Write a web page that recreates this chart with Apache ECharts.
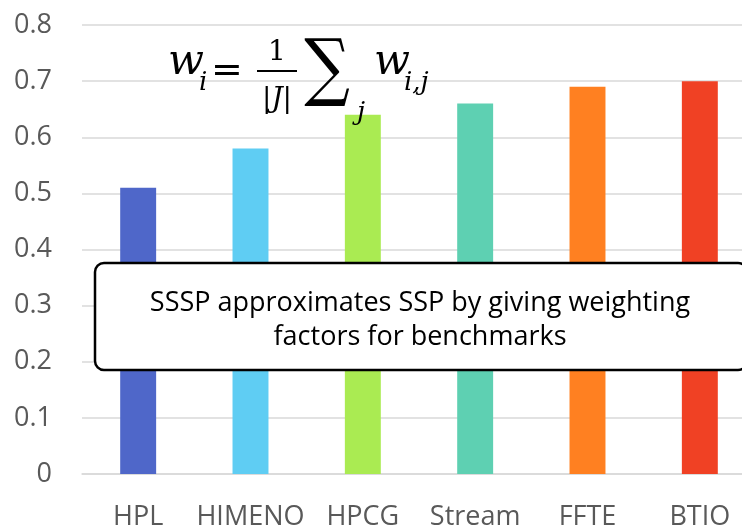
<!DOCTYPE html>
<html>
<head>
<meta charset="utf-8">
<script src="https://cdn.jsdelivr.net/npm/echarts@6/dist/echarts.min.js"></script>
<style>
html,body{margin:0;padding:0;background:#fff;}
#chart{width:742px;height:526px;}
</style>
</head>
<body>
<div id="chart"></div>
<script>
const categories = ['HPL', 'HIMENO', 'HPCG', 'Stream', 'FFTE', 'BTIO'];
const values = [0.51, 0.58, 0.64, 0.66, 0.69, 0.70];
const barColors = ['#4F67C9', '#5FCDF3', '#AAEB52', '#5ED0B2', '#FF8021', '#F04124'];
const noteLines = ['SSSP approximates SSP by giving weighting', 'factors for benchmarks'];

const chart = echarts.init(document.getElementById('chart'), null, {renderer: 'canvas'});
const labelFont = '"Open Sans", "Noto Sans", sans-serif';
const mathFont = '"DejaVu Serif", "Liberation Serif", serif';

// fit the summation glyph to a target vertical extent
const sumFont = '64px ' + mathFont;
const sumTop = 37, sumBottom = 107;
let sumScale = 1.3, sumY = 72;
try {
  const cv = document.createElement('canvas').getContext('2d');
  cv.font = sumFont;
  cv.textBaseline = 'middle';
  const m = cv.measureText('\u2211');
  if (m.actualBoundingBoxAscent !== undefined) {
    const asc = m.actualBoundingBoxAscent, desc = m.actualBoundingBoxDescent;
    sumScale = (sumBottom - sumTop) / (asc + desc);
    sumY = sumTop + asc * sumScale;
  }
} catch (e) {}

chart.setOption({
  animation: false,
  backgroundColor: '#fff',
  grid: {left: 82, right: -14, top: 25, bottom: 52, containLabel: false, outerBoundsMode: 'none'},
  xAxis: {
    type: 'category',
    data: categories,
    axisLine: {show: true, lineStyle: {color: '#d9d9d9', width: 1.5}},
    axisTick: {show: false},
    axisLabel: {color: '#595959', fontSize: 27, fontFamily: labelFont, margin: 30, interval: 0}
  },
  yAxis: {
    type: 'value',
    min: 0, max: 0.8, interval: 0.1,
    axisLine: {show: false},
    axisTick: {show: false},
    splitLine: {lineStyle: {color: '#d9d9d9', width: 1.5}},
    axisLabel: {color: '#595959', fontSize: 27, fontFamily: labelFont, margin: 30}
  },
  series: [{
    type: 'bar',
    data: values.map((v, i) => ({value: v, itemStyle: {color: barColors[i]}})),
    barWidth: '32%'
  }],
  graphic: [
    {type: 'rect', z: 100, shape: {x: 95, y: 263, width: 652, height: 107, r: 9},
     style: {fill: '#fff', stroke: '#000', lineWidth: 2.5}},
    {type: 'text', z: 101, x: 420, y: 303,
     style: {text: noteLines[0], fill: '#000', font: '27px ' + labelFont, textAlign: 'center', textVerticalAlign: 'middle'}},
    {type: 'text', z: 101, x: 420, y: 337,
     style: {text: noteLines[1], fill: '#000', font: '27px ' + labelFont, textAlign: 'center', textVerticalAlign: 'middle'}},
    // formula
    {type: 'text', z: 101, x: 168, y: 84,
     style: {text: 'w', fill: '#000', font: 'italic 42px ' + mathFont, textAlign: 'left', textVerticalAlign: 'bottom'}},
    {type: 'text', z: 101, x: 199, y: 96,
     style: {text: 'i', fill: '#000', font: 'italic 26px ' + mathFont, textAlign: 'left', textVerticalAlign: 'bottom'}},
    {type: 'text', z: 101, x: 227, y: 72,
     style: {text: '=', fill: '#000', font: '38px ' + mathFont, textAlign: 'center', textVerticalAlign: 'middle'}},
    {type: 'text', z: 101, x: 277, y: 67,
     style: {text: '1', fill: '#000', font: '28px ' + mathFont, textAlign: 'center', textVerticalAlign: 'bottom'}},
    {type: 'line', z: 101, shape: {x1: 257, y1: 71, x2: 297, y2: 71}, style: {stroke: '#000', lineWidth: 2}},
    {type: 'text', z: 101, x: 277, y: 100,
     style: {text: '|J|', fill: '#000', font: 'italic 28px ' + mathFont, textAlign: 'center', textVerticalAlign: 'middle'}},
    {type: 'text', z: 101, x: 327, y: sumY, scaleY: sumScale,
     style: {text: '\u2211', fill: '#000', font: sumFont, textAlign: 'center', textVerticalAlign: 'middle'}},
    {type: 'text', z: 101, x: 357, y: 113,
     style: {text: 'j', fill: '#000', font: 'italic 26px ' + mathFont, textAlign: 'left', textVerticalAlign: 'middle'}},
    {type: 'text', z: 101, x: 374, y: 84,
     style: {text: 'w', fill: '#000', font: 'italic 42px ' + mathFont, textAlign: 'left', textVerticalAlign: 'bottom'}},
    {type: 'text', z: 101, x: 404, y: 96,
     style: {text: 'i,j', fill: '#000', font: 'italic 26px ' + mathFont, textAlign: 'left', textVerticalAlign: 'bottom'}}
  ]
});
</script>
</body>
</html>
